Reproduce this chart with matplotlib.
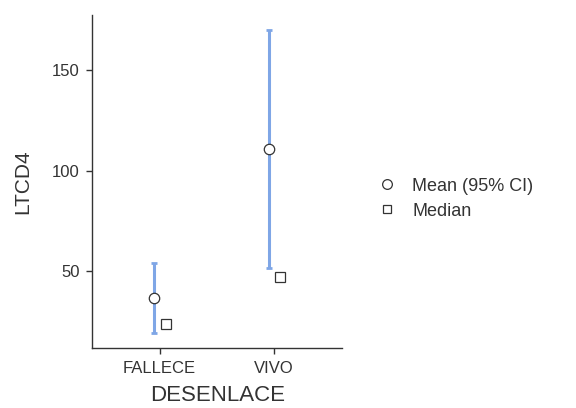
import numpy as np
import matplotlib.pyplot as plt
from matplotlib.lines import Line2D

plt.rcParams['font.family'] = ['Liberation Sans', 'DejaVu Sans']

# Datos
grupos = ['FALLECE', 'VIVO']
media = np.array([36.7, 110.9])
ic_inf = np.array([19.3, 51.6])
ic_sup = np.array([54.1, 169.9])
mediana = np.array([23.5, 47.0])

gris = '#333333'
azul = '#7FA6E6'

fig = plt.figure(figsize=(5.76, 4.08), dpi=100)
ax = fig.add_axes([0.16, 0.147, 0.434, 0.816])

x = np.arange(len(grupos))
ax.errorbar(x - 0.044, media, yerr=[media - ic_inf, ic_sup - media], fmt='none',
            ecolor=azul, elinewidth=2.2, capsize=2, capthick=2, zorder=1)
ax.plot(x - 0.044, media, 'o', ms=7.5, mfc='white', mec=gris, mew=0.9, zorder=3)
ax.plot(x + 0.056, mediana, 's', ms=6.5, mfc='white', mec=gris, mew=0.9, zorder=3)

ax.set_xlim(-0.59, 1.6)
ax.set_ylim(11.7, 177.4)
ax.set_xticks(x)
ax.set_xticklabels(grupos)
ax.set_yticks([50, 100, 150])
ax.tick_params(colors=gris, labelsize=12, length=4, width=1, pad=5)
for s in ['top', 'right']:
    ax.spines[s].set_visible(False)
for s in ['left', 'bottom']:
    ax.spines[s].set_color(gris)
    ax.spines[s].set_linewidth(1)

ax.set_xlabel('DESENLACE', fontsize=16, color=gris, labelpad=7)
ax.set_ylabel('LTCD4', fontsize=15, color=gris, labelpad=14)

handles = [
    Line2D([], [], marker='o', ls='none', ms=7, mfc='white', mec=gris, mew=0.9),
    Line2D([], [], marker='s', ls='none', ms=6, mfc='white', mec=gris, mew=0.9),
]
fig.legend(handles, ['Mean (95% CI)', 'Median'], loc='center left',
           bbox_to_anchor=(0.612, 0.513), frameon=False, fontsize=13,
           labelcolor=gris, handletextpad=0.4, labelspacing=0.45)

fig.savefig('out.png', dpi=100)
